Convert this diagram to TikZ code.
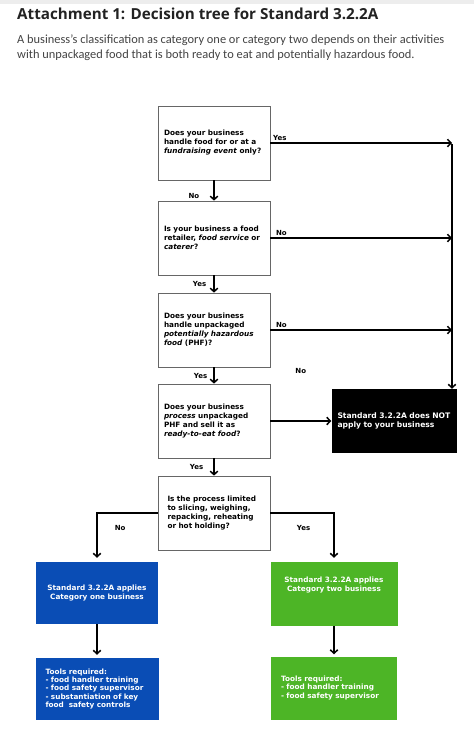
\documentclass[tikz,border=0pt]{standalone}
\usepackage{fontspec}
\setmainfont{DejaVu Sans}
\newfontfamily\titlefont{Open Sans}
\newfontfamily\introfont{Carlito}
\usetikzlibrary{positioning}
\usetikzlibrary{arrows.meta}
\definecolor{catone}{RGB}{10,77,181}
\definecolor{cattwo}{RGB}{77,181,38}
\definecolor{inktext}{RGB}{34,34,34}

\begin{document}
\begin{tikzpicture}[x=1pt,y=-1pt,node distance=92pt,on grid,>={Straight Barb[length=3.5pt,width=7.5pt]},
		question/.style={rectangle,draw=black!60,line width=0.7pt,minimum width=112pt,minimum height=74pt,text width=100pt,align=left,inner sep=0pt,font=\bfseries\fontsize{7.3}{9}\selectfont},
		outcome/.style={rectangle,fill=#1,text=white,inner sep=0pt,font=\bfseries\fontsize{7.3}{9}\selectfont},
		lab/.style={inner sep=1pt,font=\bfseries\fontsize{7}{8}\selectfont}]
		\useasboundingbox (0,0) rectangle (474,737);
		\fill[black!7] (0,0) rectangle (474,4);
		
		\node[anchor=base west,text=inktext,inner sep=0pt,font=\titlefont\bfseries\fontsize{15.2}{18}\selectfont] (title) at (17,19) {Attachment 1: Decision tree for Standard 3.2.2A};
		\node[anchor=base west,text=inktext!85,inner sep=0pt,align=left,font=\introfont\fontsize{12.4}{15}\selectfont] (intro) at (17,58)
		{A business’s classification as category one or category two depends on their activities\\with unpackaged food that is both ready to eat and potentially hazardous food.};
		
		\node[question]  (q1)  at (214,143)          {Does your business\\handle food for or at a\\\textit{fundraising event} only?\\[10pt]};
		\node[question]  (q2)  [below=95pt of q1]    {Is your business a food\\retailer, \textit{food service} or\\\textit{caterer}?};
		\node[question]  (q3)  [below=of q2]         {Does your business\\handle unpackaged\\\textit{potentially hazardous}\\\textit{food} (PHF)?\\[8pt]};
		\node[question]  (q4)  [below=91pt of q3]    {Does your business\\\textit{process} unpackaged\\PHF and sell it as\\\textit{ready-to-eat food}?\\[5pt]};
		\node[question,text width=93pt]  (q5)  [below=of q4] {Is the process limited\\to slicing, weighing,\\repacking, reheating\\or hot holding?};
		
		\node[outcome=black,minimum width=125pt,minimum height=64pt,text width=113pt,align=left,font=\bfseries\fontsize{7.6}{9}\selectfont] (nope) [right=180pt of q4]
		{Standard 3.2.2A does NOT\\apply to your business};
		\node[outcome=catone,minimum width=122pt,minimum height=62pt,align=center] (c1) [below left=80pt and 117pt of q5]
		{Standard 3.2.2A applies\\Category one business};
		\node[outcome=cattwo,minimum width=127pt,minimum height=64pt,align=center] (c2) [below right=81pt and 120pt of q5]
		{Standard 3.2.2A applies\\Category two business\\[10pt]};
		\node[outcome=catone,minimum width=123pt,minimum height=62pt,text width=103pt,align=left,font=\bfseries\fontsize{7.3}{8.2}\selectfont] (t1) [below=96pt of c1]
		{Tools required:\\- food handler training\\- food safety supervisor\\- substantiation of key\\food\ \ safety controls};
		\node[outcome=cattwo,minimum width=126pt,minimum height=63pt,text width=106pt,align=left,font=\bfseries\fontsize{7.3}{8.2}\selectfont] (t2) [below=94pt of c2]
		{Tools required:\\- food handler training\\- food safety supervisor\\[5pt]};
		
		\coordinate (rail) at (452,144);
		
		\path[->,line width=1.5pt]
		(q1) edge node[lab,pos=0,above right,xshift=1pt,yshift=1pt] {Yes} (q1 -| rail)
		(q2) edge node[lab,pos=0,above right,xshift=4pt,yshift=1pt] {No} (q2 -| rail)
		(q3) edge node[lab,pos=0,above right,xshift=4pt,yshift=1pt] {No} (q3 -| rail)
		(q4) edge node[lab,midway,above=46pt] {No} (nope)
		(q1) edge node[lab,pos=0.75,left=13pt] {No} (q2)
		(q2) edge node[lab,pos=0.5,left=6pt] {Yes} (q3)
		(q3) edge node[lab,pos=0.55,left=5pt] {Yes} (q4)
		(q4) edge node[lab,pos=0.5,left=9pt] {Yes} (q5)
		(c1) edge[shorten >=3pt] (t1)
		(c2) edge[shorten >=2pt] (t2);
		
		\draw[->,line width=1.5pt] (rail) -- (rail |- nope.north);
		\draw[->,line width=1.5pt,shorten >=4pt] (q5.west) -| node[lab,pos=0.5,anchor=north west,xshift=16pt,yshift=-11pt] {No} (c1.north);
		\draw[->,line width=1.5pt,shorten >=4pt] (q5.east) -| node[lab,pos=0.5,anchor=north east,xshift=-22pt,yshift=-11pt] {Yes} (c2.north);
\end{tikzpicture}
\end{document}
